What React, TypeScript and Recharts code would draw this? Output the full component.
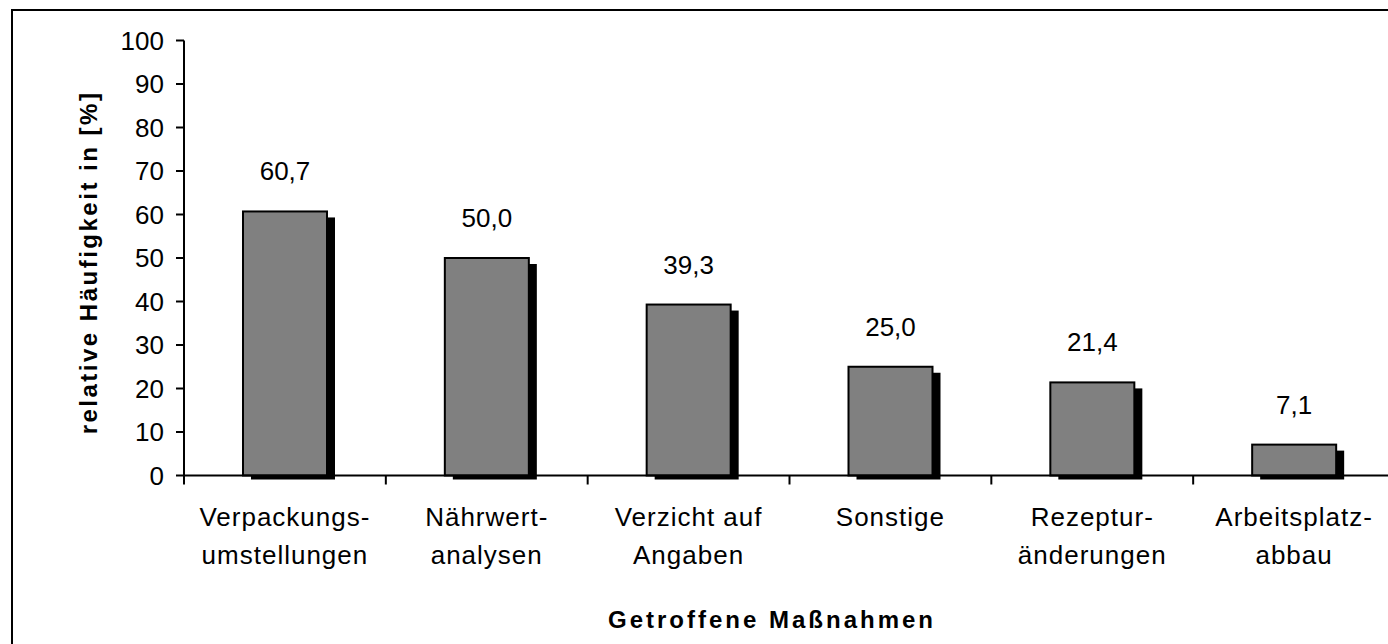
import React from 'react';
import { BarChart, Bar, XAxis, YAxis, LabelList } from 'recharts';

const categories = [
  'Verpackungs-\numstellungen',
  'Nährwert-\nanalysen',
  'Verzicht auf\nAngaben',
  'Sonstige',
  'Rezeptur-\nänderungen',
  'Arbeitsplatz-\nabbau',
];
const values = [60.7, 50.0, 39.3, 25.0, 21.4, 7.1];
const yTicks = [0, 10, 20, 30, 40, 50, 60, 70, 80, 90, 100];
const yAxisTitle = 'relative Häufigkeit in [%]';
const xAxisTitle = 'Getroffene Maßnahmen';

const data = categories.map((name, i) => ({ name, value: values[i] }));

const FONT = '"Liberation Sans", Arial, sans-serif';

function XTick(props: any) {
  const { x, y, payload, index, visibleTicksCount } = props;
  const half = payload && typeof payload.offset === 'number' ? payload.offset : 0;
  const lines = String(payload.value).split('\n');
  return (
    <g>
      <line x1={x - half} x2={x - half} y1={y} y2={y + 9} stroke="#000" strokeWidth={2} />
      {index === visibleTicksCount - 1 && (
        <line x1={x + half} x2={x + half} y1={y} y2={y + 9} stroke="#000" strokeWidth={2} />
      )}
      {lines.map((l, i) => (
        <text
          key={i}
          x={x}
          y={y + 50 + i * 38}
          textAnchor="middle"
          fontSize={26}
          fontFamily={FONT}
          letterSpacing={1}
          fill="#000"
        >
          {l}
        </text>
      ))}
    </g>
  );
}

function ShadowBar(props: any) {
  const { x, y, width, height } = props;
  if (!width || !height) return null;
  return (
    <g>
      <rect x={x + 8} y={y + 6} width={width} height={Math.max(height - 2, 0)} fill="#000" />
      <rect x={x} y={y} width={width} height={height} fill="#808080" stroke="#000" strokeWidth={2} />
    </g>
  );
}

function ValueLabel(props: any) {
  const { x, y, width, value } = props;
  return (
    <text
      x={Number(x) + Number(width) / 2}
      y={Number(y) - 31}
      textAnchor="middle"
      fontSize={26}
      fontFamily={FONT}
      fill="#000"
    >
      {Number(value).toFixed(1).replace('.', ',')}
    </text>
  );
}

function YTitle(props: any) {
  const vb = props.viewBox || { x: 84, y: 40.5, width: 100, height: 435 };
  const x = vb.x + 13;
  const y = vb.y + vb.height / 2 + 4.5;
  return (
    <text
      x={x}
      y={y}
      transform={`rotate(-90, ${x}, ${y})`}
      textAnchor="middle"
      fontSize={24}
      fontWeight="bold"
      fontFamily={FONT}
      letterSpacing={2.5}
      fill="#000"
    >
      {yAxisTitle}
    </text>
  );
}

function XTitle(props: any) {
  const vb = props.viewBox || { x: 184, y: 475.5, width: 1211, height: 120 };
  const x = vb.x + vb.width / 2 - 17.5;
  const y = vb.y + 152.5;
  return (
    <text
      x={x}
      y={y}
      textAnchor="middle"
      fontSize={24}
      fontWeight="bold"
      fontFamily={FONT}
      letterSpacing={3}
      fill="#000"
    >
      {xAxisTitle}
    </text>
  );
}

export default function App() {
  return (
    <div
      style={{
        position: 'fixed',
        left: 0,
        top: 0,
        width: 1388,
        height: 644,
        overflow: 'hidden',
        background: '#fff',
      }}
    >
      <div
        style={{
          position: 'absolute',
          left: 11,
          top: 9,
          width: 1420,
          height: 700,
          border: '2px solid #000',
          boxSizing: 'border-box',
        }}
      />
      <div style={{ position: 'absolute', left: 0, top: 0 }}>
        <BarChart
          width={1402}
          height={644}
          data={data}
          margin={{ top: 40.5, right: 7, left: 84, bottom: 48.5 }}
        >
          <XAxis
            dataKey="name"
            interval={0}
            tickLine={false}
            tickSize={0}
            tickMargin={0}
            height={120}
            axisLine={{ stroke: '#000', strokeWidth: 2 }}
            tick={<XTick />}
            label={<XTitle />}
          />
          <YAxis
            domain={[0, 100]}
            ticks={yTicks}
            interval={0}
            width={100}
            tickSize={8}
            tickMargin={12}
            axisLine={{ stroke: '#000', strokeWidth: 2 }}
            tickLine={{ stroke: '#000', strokeWidth: 2 }}
            tick={{ fill: '#000', fontSize: 26, fontFamily: FONT }}
            label={<YTitle />}
          />
          <Bar dataKey="value" barSize={84} shape={<ShadowBar />} isAnimationActive={false}>
            <LabelList dataKey="value" content={<ValueLabel />} />
          </Bar>
        </BarChart>
      </div>
    </div>
  );
}
